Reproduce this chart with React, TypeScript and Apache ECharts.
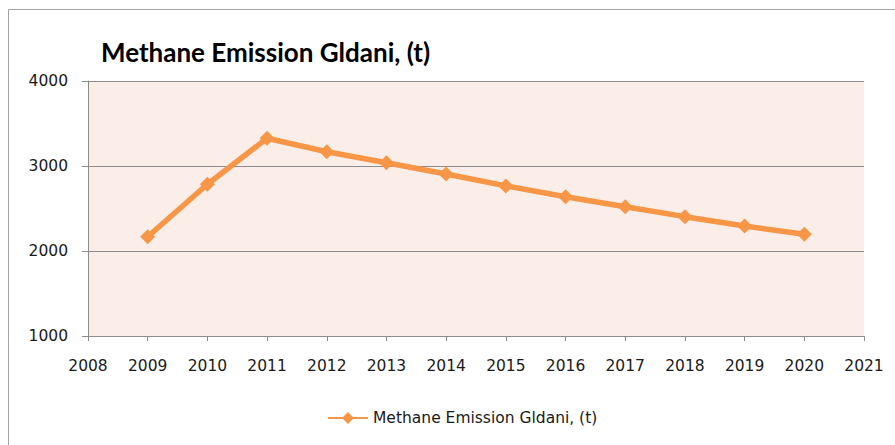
import React, { useEffect, useRef } from "react";
import * as echarts from "echarts";

const years = [2009, 2010, 2011, 2012, 2013, 2014, 2015, 2016, 2017, 2018, 2019, 2020];
const emissions = [2168, 2785, 3326, 3168, 3039, 2906, 2766, 2639, 2521, 2404, 2294, 2196];
const seriesName = "Methane Emission Gldani, (t)";
const titleText = "Methane Emission Gldani, (t)";

export default function App() {
  const ref = useRef<HTMLDivElement>(null);
  useEffect(() => {
    if (!ref.current) return;
    const chart = echarts.init(ref.current, null, { renderer: "svg" });
    const labelFont = { fontFamily: "DejaVu Sans", fontSize: 15.5, color: "#1a1a1a" };
    chart.setOption({
      animation: false,
      backgroundColor: "#fff",
      title: {
        text: titleText,
        left: 96,
        top: 34,
        textStyle: { fontFamily: "Lato", fontWeight: "bold", fontSize: 26, color: "#000" },
      },
      graphic: [
        {
          type: "rect",
          shape: { x: 8.5, y: 9.5, width: 1000, height: 1000 },
          style: { fill: "none", stroke: "#a6a6a6", lineWidth: 1 },
          silent: true,
        },
      ],
      legend: {
        left: 322,
        top: 405,
        itemWidth: 40,
        itemHeight: 15,
        itemGap: 4,
        textStyle: { ...labelFont },
        data: [seriesName],
      },
      grid: {
        left: 88,
        right: 31,
        top: 81,
        bottom: 109,
        show: true,
        backgroundColor: "#fbeee8",
        borderWidth: 0,
      },
      xAxis: {
        type: "value",
        min: 2008,
        max: 2021,
        interval: 1,
        axisLine: { show: true, lineStyle: { color: "#8c8c8c", width: 1 } },
        axisTick: { show: true, inside: false, length: 5, lineStyle: { color: "#8c8c8c" } },
        axisLabel: { ...labelFont, margin: 22, formatter: (v: number) => String(v) },
        splitLine: { show: false },
      },
      yAxis: {
        type: "value",
        min: 1000,
        max: 4000,
        interval: 1000,
        axisLine: { show: true, lineStyle: { color: "#8c8c8c", width: 1 } },
        axisTick: { show: true, inside: false, length: 6, lineStyle: { color: "#8c8c8c" } },
        axisLabel: { ...labelFont, margin: 20, formatter: (v: number) => String(v) },
        splitLine: { show: true, lineStyle: { color: "#8c8c8c", width: 1 } },
      },
      series: [
        {
          name: seriesName,
          type: "line",
          data: years.map((y, i) => [y, emissions[i]]),
          symbol: "diamond",
          symbolSize: 15,
          lineStyle: { color: "#f79646", width: 5.5 },
          itemStyle: { color: "#f79646" },
        },
      ],
    });
    return () => chart.dispose();
  }, []);
  return (
    <div
      ref={ref}
      style={{ position: "absolute", left: 0, top: 0, width: 895, height: 445 }}
    />
  );
}
